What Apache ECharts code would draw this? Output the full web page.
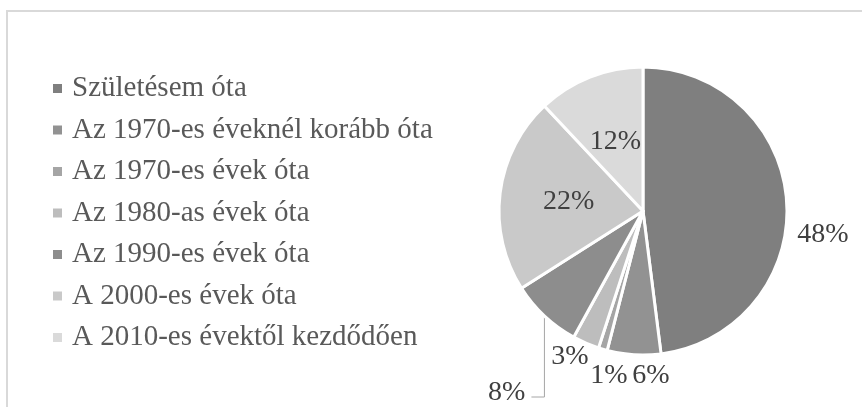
<!DOCTYPE html>
<html>
<head>
<meta charset="utf-8">
<script src="https://cdn.jsdelivr.net/npm/echarts@6/dist/echarts.min.js"></script>
<style>
  html, body { margin: 0; padding: 0; background: #fff; }
  #chart { width: 862px; height: 407px; }
</style>
</head>
<body>
<div id="chart"></div>
<script>
// adatok
const categories = [
  'Születésem óta',
  'Az 1970-es éveknél korább óta',
  'Az 1970-es évek óta',
  'Az 1980-as évek óta',
  'Az 1990-es évek óta',
  'A 2000-es évek óta',
  'A 2010-es évektől kezdődően'
]
const shares = [48, 6, 1, 3, 8, 22, 12]
const greys = ['#7f7f7f', '#929292', '#a5a5a5', '#bdbdbd', '#8d8d8d', '#c9c9c9', '#dadada']

// kulso cimkek helye (a 8% vonalas, azt kulon kezeljuk)
const labelSpots = { 0: [823, 235], 1: [651, 376], 2: [609, 376], 3: [570, 357] }

const serifFont = 'Liberation Serif'

const chart = echarts.init(document.getElementById('chart'))

const pieData = shares.map((v, i) => {
  const item = { name: categories[i], value: v, itemStyle: { color: greys[i] } }
  if (i === 5 || i === 6) {
    item.label = { position: 'inside' }
  } else if (i === 4) {
    item.labelLine = { show: true, length: 10, length2: 10, lineStyle: { color: '#a6a6a6', width: 1 } }
  }
  return item
})

const option = {
  animation: false,
  textStyle: { fontFamily: serifFont },
  graphic: [{
    type: 'rect',
    shape: { x: 7, y: 11, width: 900, height: 440 },
    style: { fill: 'none', stroke: '#d9d9d9', lineWidth: 2 },
    silent: true
  }],
  legend: {
    orient: 'vertical',
    left: 51,
    top: 74,
    padding: 0,
    itemWidth: 11,
    itemHeight: 11,
    itemGap: 12.5,
    icon: 'rect',
    selectedMode: false,
    data: categories,
    textStyle: {
      fontFamily: serifFont,
      fontSize: 29,
      lineHeight: 29,
      color: '#595959',
      padding: [0, 0, 0, 4]
    }
  },
  series: [{
    type: 'pie',
    center: [643, 211],
    radius: 144,
    startAngle: 90,
    clockwise: true,
    itemStyle: { borderColor: '#fff', borderWidth: 3 },
    label: {
      show: true,
      position: 'outside',
      formatter: '{d}%',
      fontFamily: serifFont,
      fontSize: 28,
      color: '#404040'
    },
    labelLine: { show: false, length: 0, length2: 0 },
    labelLayout: function (p) {
      const spot = labelSpots[p.dataIndex]
      if (spot) {
        return { x: spot[0], y: spot[1], align: 'center', verticalAlign: 'middle' }
      }
      if (p.dataIndex === 4 && p.labelLinePoints) {
        const e = p.labelLinePoints[0]
        const ly = 397
        return {
          x: e[0] - 19,
          y: ly - 4,
          align: 'right',
          verticalAlign: 'middle',
          labelLinePoints: [[e[0], e[1]], [e[0], ly], [e[0] - 13, ly]]
        }
      }
      return {}
    },
    emphasis: { disabled: true },
    data: pieData
  }]
}

chart.setOption(option)
</script>
</body>
</html>
